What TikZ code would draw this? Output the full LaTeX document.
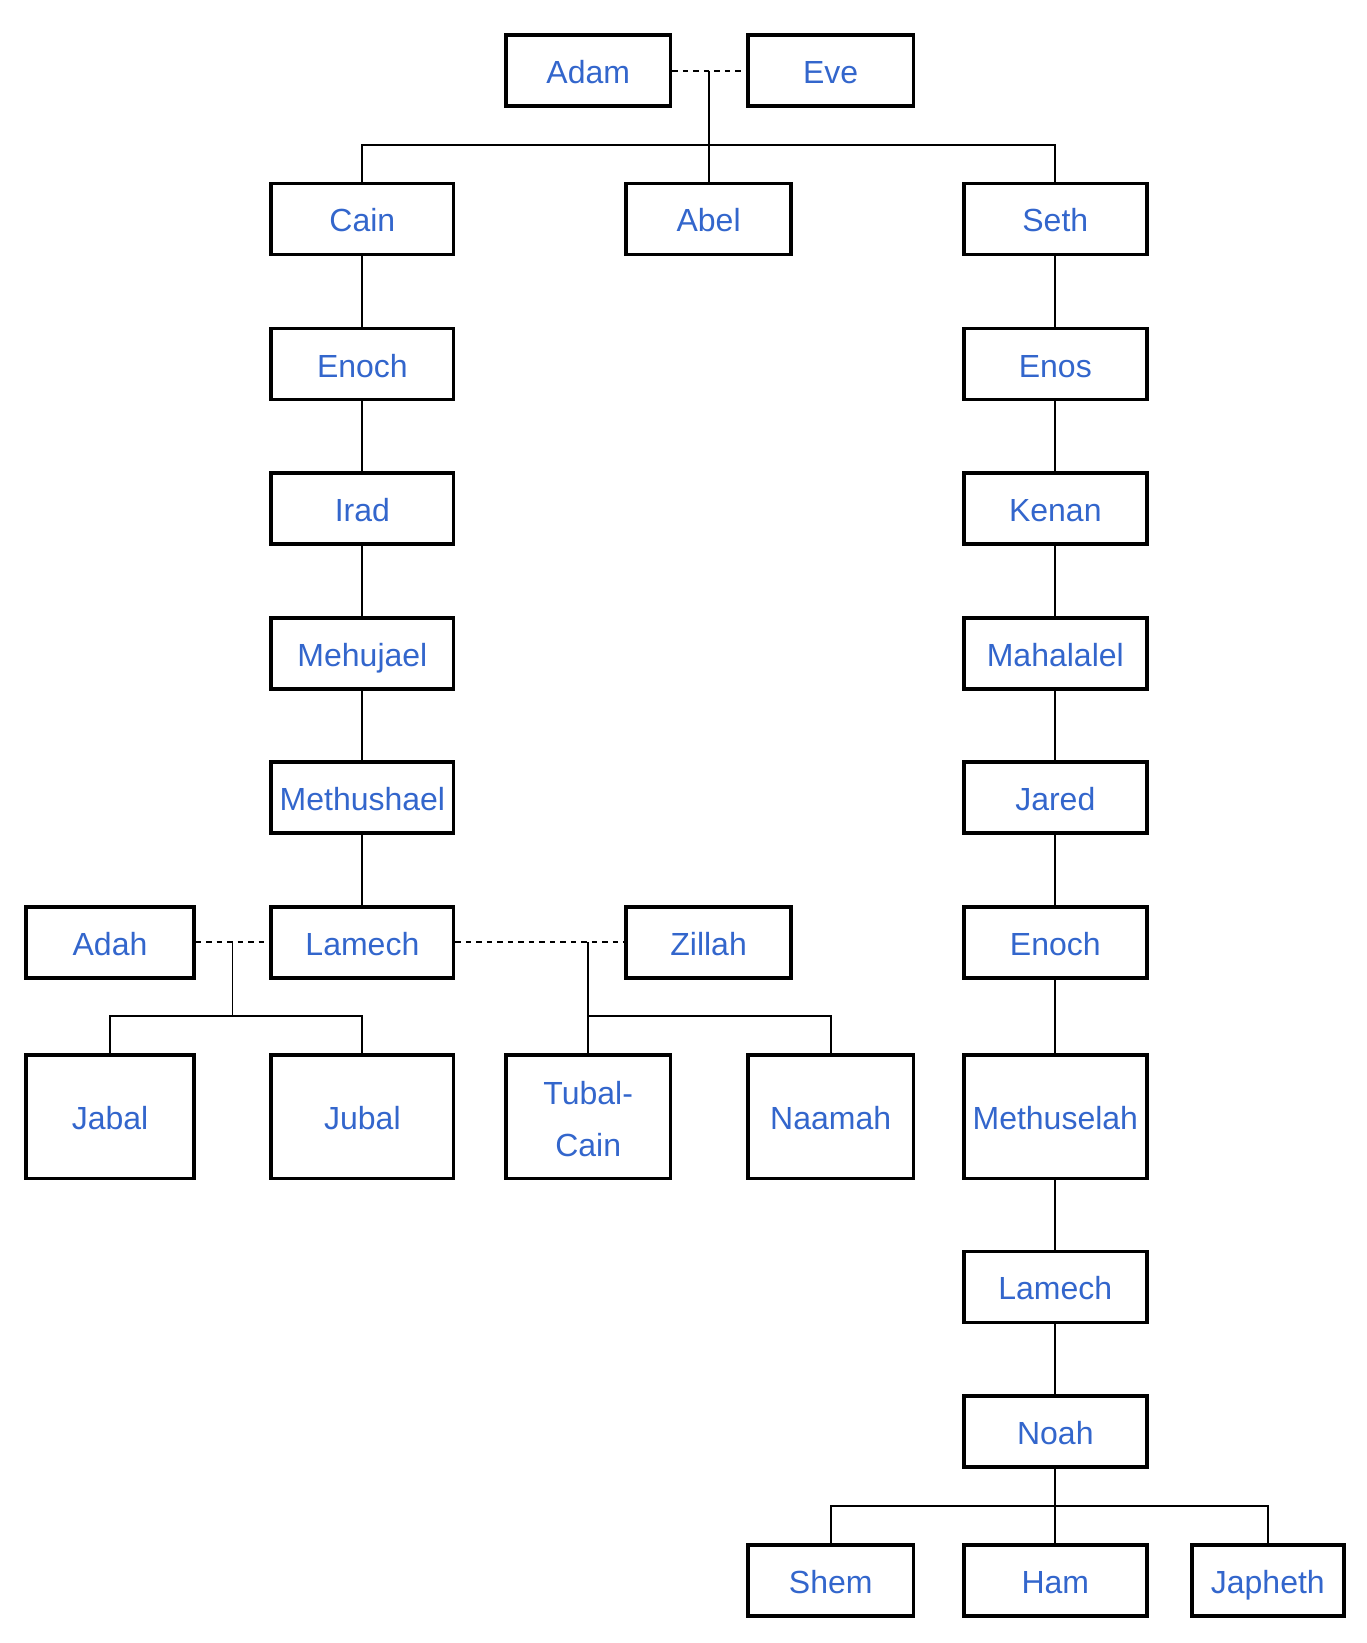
\documentclass[tikz,border=0pt]{standalone}
\usepackage{fontspec}
\setmainfont{Liberation Sans}
\definecolor{nameblue}{RGB}{51,102,204}
\begin{document}
\begin{tikzpicture}[x=1pt,y=-1pt,
  person/.style={draw=black,line width=3.8pt,rectangle,minimum height=71pt,inner sep=0pt,
    text=nameblue,font=\fontsize{32pt}{52pt}\selectfont,align=center,
    text height=30pt,text depth=4pt},
  tall/.style={minimum height=123.6pt},
  link/.style={line width=1.9pt,draw=black},
  spouse/.style={line width=1.9pt,draw=black,dash pattern=on 5.5pt off 5pt}]
\useasboundingbox (0,0) rectangle (1366,1643);
% top
\node[person,minimum width=164.5pt] (adam) at (588.2,70.7) {Adam};
\node[person,minimum width=165.5pt] (eve) at (830.7,70.7) {Eve};
\node[person,minimum width=182.3pt] (cain) at (362.4,218.9) {Cain};
\node[person,minimum width=164.5pt] (abel) at (708.6,218.9) {Abel};
\node[person,minimum width=183.3pt] (seth) at (1055.3,218.9) {Seth};
% Cain line
\node[person,minimum width=182.3pt] (enochA) at (362.4,364) {Enoch};
\node[person,minimum width=182.3pt] (irad) at (362.4,508.6) {Irad};
\node[person,minimum width=182.3pt] (mehujael) at (362.4,653.1) {Mehujael};
\node[person,minimum width=182.3pt] (methushael) at (362.4,797.7) {Methushael};
\node[person,minimum width=182.3pt] (lamechA) at (362.4,942.2) {Lamech};
\node[person,minimum width=167.6pt] (adah) at (110,942.2) {Adah};
\node[person,minimum width=164.5pt] (zillah) at (708.6,942.2) {Zillah};
\node[person,tall,minimum width=167.6pt] (jabal) at (110,1116.6) {Jabal};
\node[person,tall,minimum width=182.3pt] (jubal) at (362.4,1116.6) {Jubal};
\node[person,tall,minimum width=164.5pt,text height=85pt,text depth=4.6pt] (tubal) at (588.2,1116.6) {Tubal-\\Cain};
\node[person,tall,minimum width=165.5pt] (naamah) at (830.7,1116.6) {Naamah};
% Seth line
\node[person,minimum width=183.3pt] (enos) at (1055.3,364) {Enos};
\node[person,minimum width=183.3pt] (kenan) at (1055.3,508.6) {Kenan};
\node[person,minimum width=183.3pt] (mahalalel) at (1055.3,653.1) {Mahalalel};
\node[person,minimum width=183.3pt] (jared) at (1055.3,797.7) {Jared};
\node[person,minimum width=183.3pt] (enochB) at (1055.3,942.2) {Enoch};
\node[person,tall,minimum width=183.3pt] (methuselah) at (1055.3,1116.6) {Methuselah};
\node[person,minimum width=183.3pt] (lamechB) at (1055.3,1286.9) {Lamech};
\node[person,minimum width=183.3pt] (noah) at (1055.3,1431.4) {Noah};
\node[person,minimum width=165.5pt] (shem) at (830.7,1580.7) {Shem};
\node[person,minimum width=183.3pt] (ham) at (1055.3,1580.7) {Ham};
\node[person,minimum width=152pt] (japheth) at (1267.8,1580.7) {Japheth};
% junction coordinates
\coordinate (ae) at (abel.north |- adam.east);
\coordinate (barA) at (0,144.6);
\coordinate (al) at (232.5,942.2);
\coordinate (lz) at (tubal.north |- lamechA.east);
\coordinate (barL) at (0,1016);
\coordinate (barN) at (0,1506.3);
% Adam & Eve
\draw[spouse] (adam.east) -- (eve.west);
\draw[link] (ae) -- (abel.north);
\draw[link] (cain.north) -- (cain.north |- barA) -- (seth.north |- barA) -- (seth.north);
% Cain line
\draw[link] (cain) -- (enochA);
\draw[link] (enochA) -- (irad);
\draw[link] (irad) -- (mehujael);
\draw[link] (mehujael) -- (methushael);
\draw[link] (methushael) -- (lamechA);
\draw[spouse] (adah.east) -- (lamechA.west);
\draw[spouse] (lamechA.east) -- (zillah.west);
\draw[link] (al) -- (al |- barL);
\draw[link] (jabal.north) -- (jabal.north |- barL) -- (jubal.north |- barL) -- (jubal.north);
\draw[link] (lz) -- (tubal.north);
\draw[link] (tubal.north |- barL) -- (naamah.north |- barL) -- (naamah.north);
% Seth line
\draw[link] (seth) -- (enos);
\draw[link] (enos) -- (kenan);
\draw[link] (kenan) -- (mahalalel);
\draw[link] (mahalalel) -- (jared);
\draw[link] (jared) -- (enochB);
\draw[link] (enochB) -- (methuselah);
\draw[link] (methuselah) -- (lamechB);
\draw[link] (lamechB) -- (noah);
\draw[link] (noah) -- (ham);
\draw[link] (shem.north) -- (shem.north |- barN) -- (japheth.north |- barN) -- (japheth.north);
\end{tikzpicture}
\end{document}
